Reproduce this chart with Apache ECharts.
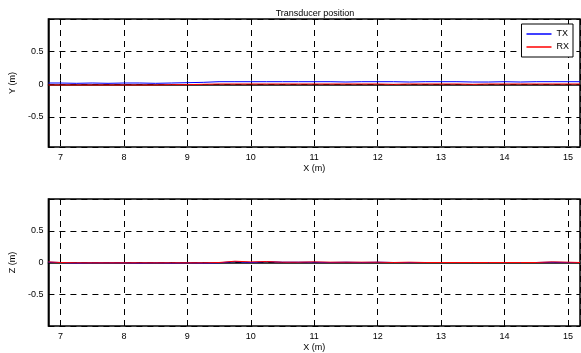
<!DOCTYPE html>
<html>
<head>
<meta charset="utf-8">
<script src="https://cdn.jsdelivr.net/npm/echarts@6/dist/echarts.min.js"></script>
<style>
    html, body { margin: 0; padding: 0; background: #fff; }
    #chart { width: 581px; height: 353px; }
</style>
</head>
<body>
<div id="chart"></div>
<script>
// data
let xData = [6.81, 7.0, 7.25, 7.5, 7.75, 8.0, 8.25, 8.5, 8.75, 9.0, 9.25, 9.5, 9.75, 10.0, 10.25, 10.5, 10.75, 11.0, 11.25, 11.5, 11.75, 12.0, 12.25, 12.5, 12.75, 13.0, 13.25, 13.5, 13.75, 14.0, 14.25, 14.5, 14.75, 15.0, 15.19]
let txY = [0.02, 0.02, 0.015, 0.02, 0.015, 0.02, 0.02, 0.015, 0.02, 0.025, 0.03, 0.04, 0.04, 0.04, 0.04, 0.04, 0.04, 0.04, 0.04, 0.035, 0.04, 0.04, 0.04, 0.035, 0.04, 0.04, 0.04, 0.035, 0.035, 0.04, 0.035, 0.04, 0.04, 0.04, 0.04]
let rxY = [-0.01, -0.01, -0.01, -0.01, -0.01, -0.01, -0.01, -0.01, -0.005, -0.005, 0.0, 0.005, 0.005, 0.005, 0.005, 0.005, 0.005, 0.005, 0.005, 0.005, 0.005, 0.005, 0.0, 0.005, 0.005, 0.005, 0.005, 0.0, 0.005, 0.005, 0.005, 0.005, 0.005, 0.005, 0.005]
let txZ = [0.005, 0.0, -0.01, -0.005, -0.005, -0.005, -0.01, -0.005, -0.01, -0.005, -0.01, -0.005, 0.015, 0.0, 0.015, 0.005, 0.005, 0.005, 0.0, 0.005, 0.0, 0.005, 0.0, 0.0, 0.0, 0.0, 0.0, 0.0, 0.0, 0.0, 0.0, 0.0, 0.005, 0.0, 0.0]
let rxZ = [0.01, 0.0, -0.005, -0.005, -0.005, -0.005, -0.005, -0.005, -0.005, -0.005, -0.005, 0.0, 0.02, 0.01, 0.015, 0.005, 0.005, 0.01, 0.005, 0.005, 0.005, 0.005, 0.0, 0.005, 0.0, 0.0, 0.0, 0.0, 0.0, 0.0, 0.0, 0.0, 0.01, 0.005, 0.0]

let font = 'Liberation Sans, Arial, sans-serif'
let myChart = echarts.init(document.getElementById('chart'))

let pairs = (xs, ys) => xs.map((x, i) => [x, ys[i]])

let xAxisOf = (gridIndex) => ({
    type: 'value',
    gridIndex: gridIndex,
    min: 6.81,
    max: 15.19,
    splitNumber: 8,
    name: 'X (m)',
    nameLocation: 'middle',
    nameGap: 17,
    nameTextStyle: { color: '#000', fontSize: 9, fontFamily: font },
    axisLine: { show: true, lineStyle: { color: '#000', width: 1.5 } },
    axisTick: { show: true, inside: true, length: 4, lineStyle: { color: '#000' } },
    axisLabel: { color: '#000', fontSize: 9, fontFamily: font, margin: 6, showMinLabel: false, showMaxLabel: false },
    splitLine: { show: true, lineStyle: { color: '#000', type: [6, 5], width: 1 } }
})

let yAxisOf = (gridIndex, name, min) => ({
    type: 'value',
    gridIndex: gridIndex,
    min: min,
    max: 1,
    splitNumber: 4,
    name: name,
    nameLocation: 'middle',
    nameGap: 24,
    nameTextStyle: { color: '#000', fontSize: 9, fontFamily: font },
    axisLine: { show: true, lineStyle: { color: '#000', width: 1.5 } },
    axisTick: { show: true, inside: true, length: 4, lineStyle: { color: '#000' } },
    axisLabel: { color: '#000', fontSize: 9, fontFamily: font, margin: 5, showMinLabel: false, showMaxLabel: false },
    splitLine: { show: true, lineStyle: { color: '#000', type: [6, 5], width: 1 } }
})

let lineOf = (name, data, color, idx) => ({
    name: name,
    type: 'line',
    data: data,
    xAxisIndex: idx,
    yAxisIndex: idx,
    symbol: 'none',
    smooth: false,
    lineStyle: { color: color, width: 1 },
    itemStyle: { color: color }
})

let option = {
    animation: false,
    title: {
        text: 'Transducer position',
        left: 310,
        top: 4,
        textAlign: 'center',
        textStyle: { color: '#000', fontSize: 9, fontWeight: 'normal', fontFamily: font }
    },
    legend: {
        data: ['TX', 'RX'],
        orient: 'vertical',
        right: 8,
        top: 24,
        icon: 'rect',
        itemWidth: 25,
        itemHeight: 1.5,
        itemGap: 3,
        padding: [5, 4, 5, 5],
        backgroundColor: '#fff',
        borderColor: '#000',
        borderWidth: 1,
        borderRadius: 0,
        textStyle: { color: '#000', fontSize: 9, fontFamily: font, lineHeight: 10 }
    },
    grid: [
        { left: 41, right: 1, top: 19, height: 128, show: true, borderColor: '#000', borderWidth: 1.5, backgroundColor: '#fff' },
        { left: 41, right: 1, top: 199, height: 128, show: true, borderColor: '#000', borderWidth: 1.5, backgroundColor: '#fff' }
    ],
    xAxis: [xAxisOf(0), xAxisOf(1)],
    yAxis: [yAxisOf(0, 'Y (m)', -0.96), yAxisOf(1, 'Z (m)', -1)],
    series: [
        lineOf('TX', pairs(xData, txY), '#0000ff', 0),
        lineOf('RX', pairs(xData, rxY), '#ff0000', 0),
        lineOf('TX', pairs(xData, txZ), '#0000ff', 1),
        lineOf('RX', pairs(xData, rxZ), '#ff0000', 1)
    ]
}
myChart.setOption(option)
window.addEventListener('resize', function () {
    myChart.resize()
})
</script>
</body>
</html>
